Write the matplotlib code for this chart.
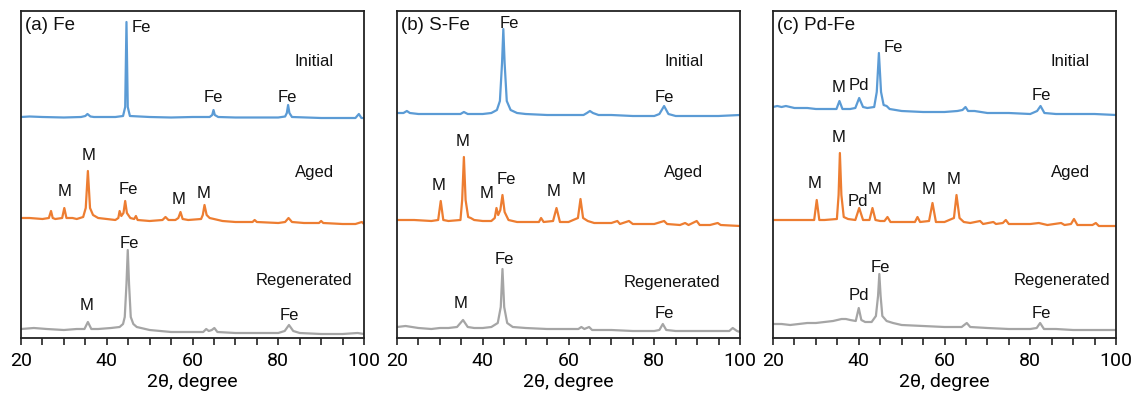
import matplotlib
matplotlib.use("Agg")
import matplotlib.pyplot as plt
from matplotlib.ticker import MultipleLocator
import numpy as np

# XRD traces: (2theta, relative intensity) key points
fe_initial = [(20, 0), (22, 0.5), (25, 0), (30, -0.5), (34, 0), (35.0, 1), (35.5, 3), (36.2, 0.5),
              (37, 0), (42, 0), (43.8, 1), (44.3, 10), (44.6, 95), (44.9, 10), (45.4, 1), (50, 0),
              (55, -0.5), (60, 0), (64, 0), (64.6, 2), (64.9, 7), (65.2, 2), (66, 0), (70, -0.5),
              (75, -0.5), (80, -0.5), (81.6, 0.5), (82.0, 4), (82.3, 12), (82.6, 4), (83.2, 0),
              (90, -1), (95, -1), (98, -1), (98.8, 3), (99.4, -1), (100, -1)]
fe_aged = [(20, 0), (22, 0), (25, -1), (26.5, 0), (27.0, 7), (27.4, 0), (28, -1), (29.6, 0),
           (30.1, 10), (30.6, 0), (32, 0), (33, -1), (34.5, 1), (35.1, 10), (35.6, 47), (36.1, 10),
           (36.8, 3), (38, 0), (40, -1), (42, -2), (42.7, 0), (43.0, 7), (43.4, 2), (43.9, 5),
           (44.3, 17), (44.7, 5), (45.5, 0), (46.4, -1), (46.8, 2), (47.2, -2), (50, -3), (53, -2),
           (53.7, 1), (54.4, -2), (56, -2), (56.7, 0), (57.2, 6), (57.7, -1), (59, -2), (62, -1),
           (62.4, 3), (62.8, 13), (63.3, 3), (64, 0), (65, -1), (67, -3), (70, -4), (74, -4),
           (74.5, -2), (75, -4), (80, -5), (81.6, -4), (82.4, 0), (83.2, -4), (86, -5), (89.5, -5),
           (90.0, -3), (90.5, -5), (95, -6), (98, -6), (99.5, -4), (100, -6)]
fe_regen = [(20, 0), (23, 1), (26, 0), (30, -1), (33, 0), (34.8, 0), (35.6, 7), (36.4, 0), (38, 0),
            (41, 1), (43, 2), (43.8, 5), (44.2, 12), (44.6, 45), (44.9, 79), (45.2, 45), (45.6, 12),
            (46.2, 5), (47, 2), (48, 1), (50, -1), (55, -3), (60, -3), (62.5, -3), (63.2, 0),
            (63.8, -2), (64.5, -1), (65.1, 1), (65.8, -3), (70, -4), (75, -4), (80, -4), (81.5, -2),
            (82.5, 4), (83.5, -2), (85, -4), (90, -5), (95, -5), (98.5, -4), (100, -5)]

sfe_initial = [(20, 0), (21.5, 0), (22.3, 2), (23, 0), (25, -1), (30, -1), (34.8, -1), (35.6, 1),
               (36.5, -1), (40, -1), (42, 0), (43.3, 3), (44.0, 12), (44.5, 50), (44.8, 84),
               (45.1, 50), (45.6, 12), (46.5, 3), (48, 0), (50, -1), (55, -2), (60, -2), (63.5, -2),
               (64.3, 0), (65.0, 2), (65.7, 0), (67, -2), (70, -2), (75, -3), (80, -3), (81.2, -1),
               (82.3, 7), (83.3, -1), (85, -3), (90, -3), (95, -3), (100, -2)]
sfe_aged = [(20, 0), (24, 0), (28, -1), (29.6, 0), (30.2, 19), (30.8, 0), (32, -1), (34.8, 0),
            (35.2, 20), (35.6, 63), (36.0, 20), (36.6, 3), (37.2, 2), (38, 0), (40, -1), (42, -1),
            (42.8, 2), (43.2, 12), (43.6, 5), (44.1, 10), (44.6, 25), (45.1, 8), (46, 0), (48, -2),
            (50, -2), (53.1, -2), (53.6, 2), (54.2, -2), (56.4, -1), (57.2, 12), (58, -2), (60, -2),
            (62.2, 2), (62.8, 21), (63.4, 2), (64.5, -1), (66, -3), (70, -3), (71.4, -1), (72, -4),
            (74.1, -1), (75, -4), (80, -4), (82.3, -1), (83, -4), (86, -5), (87.2, -3), (88, -5),
            (89.9, -1), (90.6, -5), (93, -5), (94.8, -3), (95.5, -5), (100, -6)]
sfe_regen = [(20, 0), (22, 1), (25, -1), (28, -2), (30, -1), (32, -1), (34, 0), (35.4, 7),
             (36.5, 0), (38, -1), (40, -1), (42, 0), (43.5, 4), (44.2, 20), (44.6, 58), (45.0, 20),
             (45.7, 4), (47, 0), (50, -1), (55, -2), (60, -2), (62.3, -2), (63, 0), (63.7, -2),
             (64.8, 0), (65.5, -3), (70, -3), (75, -4), (80, -4), (81.2, -3), (82, 3), (82.8, -3),
             (85, -4), (90, -4), (95, -4), (97.5, -4), (98.3, -1), (99.3, -4), (100, -5)]

pdfe_initial = [(20, 0), (21, 1), (22, 0), (23, 1), (25, -1), (28, -1), (30, -2), (33, -2),
                (34.8, -2), (35.5, 6), (36.2, -2), (38, -2), (39.2, -1), (40.1, 9), (41, 0),
                (42, -1), (43.6, 0), (44.2, 15), (44.7, 54), (45.2, 15), (45.8, 2), (46.5, 1),
                (47.2, -2), (50, -4), (55, -5), (60, -5), (63, -4), (64.2, -3), (64.9, 0),
                (65.5, -4), (67, -4), (70, -6), (75, -6), (80, -7), (81.6, -4), (82.4, 1),
                (83.3, -6), (86, -7), (90, -7), (95, -7), (100, -8)]
pdfe_aged = [(20, 0), (25, 0), (28, 0), (29.6, 0), (30.2, 20), (30.8, 0), (32, 0), (34.9, 1),
             (35.3, 25), (35.6, 67), (35.95, 25), (36.5, 3), (37.5, 1), (39.2, 0), (40.1, 12),
             (41, 0), (42.5, 0), (43.2, 12), (43.9, 0), (45, -1), (46.0, -1), (46.7, 3), (47.4, -2),
             (50, -2), (53.1, -2), (53.7, 3), (54.3, -2), (56.4, -1), (57.2, 17), (58, -2), (60, -2),
             (62.2, 2), (62.8, 25), (63.5, 2), (64.5, -2), (66, -3), (68.3, -1), (69, -4),
             (71.4, -2), (72, -4), (73.6, -3), (74.3, 0), (75, -4), (78, -4), (80, -4), (82, -3),
             (84, -5), (87.2, -3), (88, -5), (89.5, -4), (90.2, 1), (91, -5), (94.5, -5),
             (95.3, -3), (96, -6), (100, -6)]
pdfe_regen = [(20, 0), (22, 0), (24, -1), (26, 0), (28, 1), (30, 1), (32, 2), (34, 3), (36, 5),
              (37, 5), (38, 4), (39.3, 3), (40.0, 16), (40.6, 4), (41.5, 2), (43, 2), (44.0, 8),
              (44.5, 28), (44.8, 50), (45.1, 28), (45.5, 8), (46.5, 3), (48, 1), (50, -1), (55, -2),
              (60, -3), (64, -3), (65.2, 1), (66, -3), (70, -4), (75, -5), (80, -5), (81.5, -4),
              (82.3, 1), (83.2, -5), (86, -5), (90, -6), (95, -6), (100, -6)]

panel_titles = ["(a) Fe", "(b) S-Fe", "(c) Pd-Fe"]
traces = [[fe_initial, fe_aged, fe_regen],
          [sfe_initial, sfe_aged, sfe_regen],
          [pdfe_initial, pdfe_aged, pdfe_regen]]
# vertical stacking offsets (Initial, Aged, Regenerated) per panel
offsets = [[221, 120, 9], [225, 118, 11], [231, 118, 14]]

# peak labels: (2theta, height, text)
peak_labels = [
    [(48.1, 311, "Fe"), (88.3, 276, "Initial"), (64.9, 240, "Fe"), (82.2, 240, "Fe"),
     (30.1, 146, "M"), (35.7, 183, "M"), (45.0, 148, "Fe"), (56.7, 138, "M"), (62.6, 145, "M"),
     (88.5, 165, "Aged"), (35.2, 32, "M"), (45.3, 95, "Fe"), (86.0, 58, "Regenerated"),
     (82.5, 23, "Fe")],
    [(46.1, 314, "Fe"), (86.9, 276, "Initial"), (82.3, 240, "Fe"),
     (29.8, 153, "M"), (35.4, 196, "M"), (41.0, 145, "M"), (45.4, 159, "Fe"), (56.4, 146, "M"),
     (62.4, 159, "M"), (86.9, 165, "Aged"), (34.9, 35, "M"), (45.0, 78, "Fe"),
     (84.1, 56, "Regenerated"), (82.3, 24, "Fe")],
    [(48.0, 291, "Fe"), (35.2, 251, "M"), (40.1, 253, "Pd"), (89.3, 276, "Initial"),
     (82.5, 242, "Fe"), (29.8, 155, "M"), (35.4, 200, "M"), (39.8, 136, "Pd"), (43.6, 149, "M"),
     (56.2, 148, "M"), (62.2, 158, "M"), (89.3, 165, "Aged"), (40.0, 42, "Pd"), (45.1, 71, "Fe"),
     (87.3, 57, "Regenerated"), (82.5, 24, "Fe")],
]

colors = ["#5B9BD5", "#ED7D31", "#A5A5A5"]
ax_left = [21, 397, 773]

fig = plt.figure(figsize=(11.38, 3.93), dpi=100)
W, H = 1138.0, 393.0

for p in range(3):
    ax = fig.add_axes([ax_left[p] / W, (H - 338) / H, 343 / W, 327 / H])
    for t, (pts, off) in enumerate(zip(traces[p], offsets[p])):
        arr = np.array(pts, dtype=float)
        ax.plot(arr[:, 0], arr[:, 1] + off, color=colors[t], lw=1.6, solid_joinstyle="round")
    for x, y, s in peak_labels[p]:
        ax.text(x, y, s, ha="center", va="center", fontsize=12, family="Liberation Sans",
                color="#111111")
    ax.text(0.012, 0.955, panel_titles[p], transform=ax.transAxes, ha="left", va="center",
            fontsize=13.5, family="Liberation Sans", color="#111111")
    ax.set_xlim(20, 100)
    ax.set_ylim(0, 327)
    ax.set_yticks([])
    ax.xaxis.set_major_locator(MultipleLocator(20))
    ax.xaxis.set_minor_locator(MultipleLocator(5))
    ax.tick_params(axis="x", which="both", direction="out", length=5, width=1.2,
                   color="#222222", labelsize=14, pad=5)
    for lab in ax.get_xticklabels():
        lab.set_family("Roboto")
    ax.set_xlabel("2θ, degree", fontsize=14, family="Roboto", va="top")
    ax.xaxis.set_label_coords(0.5, -0.106)
    for sp in ax.spines.values():
        sp.set_linewidth(1.3)
        sp.set_color("#222222")

fig.savefig("out.png", dpi=100)
